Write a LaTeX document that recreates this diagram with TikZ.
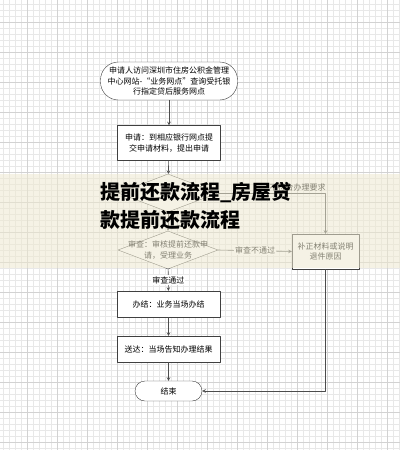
\documentclass[tikz,border=0pt]{standalone}
\usepackage{fontspec}
\setmainfont{Noto Sans CJK SC}
\usetikzlibrary{shapes.geometric}
\definecolor{bandcol}{RGB}{238,233,208}
\begin{document}
\begin{tikzpicture}[x=1pt, y=-1pt, font=\fontsize{8}{10.5}\selectfont, line join=round, >=stealth,
  gridminor/.style={gray!18, line width=0.4pt},
  gridmajor/.style={gray!35, line width=0.5pt},
  box/.style={draw=black!75, fill=white, minimum width=103pt, minimum height=26pt, align=center, inner sep=2pt},
  term/.style={box, rounded corners=18pt},
  decide/.style={draw=black!75, fill=white, diamond, minimum width=100pt, minimum height=38pt, inner sep=0pt},
  flow/.style={->, draw=black!70, semithick}]
\useasboundingbox (0,0) rectangle (400,450);
% --- Lưới nền ---
\fill[white] (0,0) rectangle (400,450);
\foreach \x in {3,9,...,399} \draw[gridminor] (\x,0) -- (\x,450);
\foreach \y in {4,10,...,448} \draw[gridminor] (0,\y) -- (400,\y);
\foreach \x in {27,57,...,387} \draw[gridmajor] (\x,0) -- (\x,450);
\foreach \y in {22,52,...,442} \draw[gridmajor] (0,\y) -- (400,\y);

% --- Các bước ---
\node[term, minimum width=137pt, minimum height=38pt] (start) at (169,81) {申请人访问深圳市住房公积金管理\\中心网站-“业务网点”查询受托银\\行指定贷后服务网点};
\node[box, minimum height=35pt] (apply) at (169,143) {申请：到相应银行网点提\\交申请材料，提出申请};
\node[decide] (accept) at (168,193) {};
\node[decide] (check) at (168,250) {};
\node[align=center] (checktext) at (check) {审查：审核提前还款申\\请，受理业务};
\node[box, minimum width=67pt, minimum height=35pt] (fix) at (325.5,251.5) {补正材料或说明\\退件原因};
\node[box] (finish) at (168.5,304) {办结：业务当场办结};
\node[box] (deliver) at (168.5,349) {送达：当场告知办理结果};
\node[term, minimum width=67pt, minimum height=20pt, rounded corners=10pt] (end) at (168.5,391) {结束};

% --- Mũi tên ---
\draw[flow] (start) -- (apply);
\draw[flow] (apply) -- (accept);
\draw[flow] (accept) -- (check);
\draw[flow] (accept.east) -| node[pos=0.37, above, inner sep=1.5pt] {不符合办理要求} (fix.north);
\draw[flow] (check.east) -- node[fill=white, inner sep=1pt] {审查不通过} (fix.west);
\draw[flow] (check) -- node[fill=white, inner sep=1pt] {审查通过} (finish);
\draw[flow] (finish) -- (deliver);
\draw[flow] (deliver) -- (end);
\draw[flow] (fix.south) |- (end.east);

% --- Dải tiêu đề ---
\fill[bandcol, opacity=0.55] (0,174) rectangle (400,268);
\node[anchor=west, font=\fontsize{20}{28}\selectfont\bfseries, align=left, inner sep=0pt] (title) at (100,206) {提前还款流程\_房屋贷\\款提前还款流程};
\end{tikzpicture}
\end{document}
